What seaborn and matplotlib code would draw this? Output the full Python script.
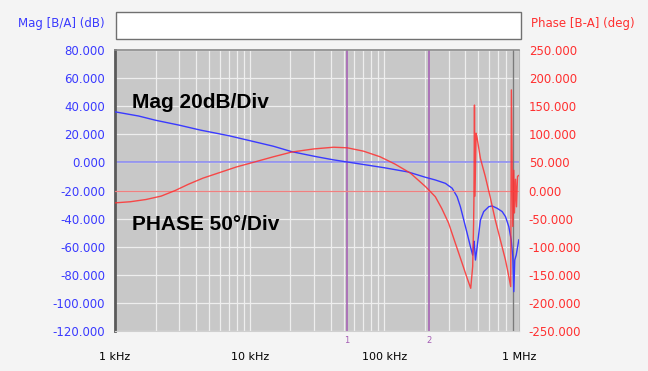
import numpy as np
import pandas as pd
import matplotlib
matplotlib.use("Agg")
import matplotlib.pyplot as plt
import matplotlib.ticker as mticker
from matplotlib.patches import Rectangle
import seaborn as sns

# ---------------- data ----------------
mag_freq = [1000, 1500, 2000, 3000, 4300, 7000, 10000, 15000, 20600, 31500, 42000,
            53000, 70000, 100000, 150000, 202000, 239000, 284000, 319000, 347000,
            367000, 389000, 412000, 436000, 453000, 462000, 466000, 475000, 489000,
            517000, 547000, 597000, 632000, 689000, 750000, 794000, 840000, 875000,
            899000, 915000, 930000, 953000, 997000]
mag_db = [36.0, 33.0, 30.0, 26.5, 23.0, 19.0, 15.5, 11.5, 7.6, 4.0, 1.8,
          0.3, -1.5, -3.8, -6.8, -10.6, -12.5, -14.9, -18.4, -24.4,
          -31.5, -41.0, -50.5, -60.0, -66.0, -56.0, -58.0, -69.5, -60.0,
          -41.0, -35.0, -31.5, -31.0, -32.7, -35.0, -38.6, -45.7, -55.0,
          -67.0, -92.0, -69.5, -66.0, -55.0]

ph_freq = [1000, 1300, 1700, 2200, 2800, 3500, 4500, 6000, 8000, 10600, 15000,
           20600, 30000, 42000, 53000, 70000, 93000, 120000, 156000, 202000,
           239000, 267000, 300000, 337000, 379000, 412000, 438000, 453000,
           460000, 463000, 467000, 471000, 480000, 489000, 517000, 562000,
           610000, 666000, 727000, 794000, 840000, 868000, 878000, 899000,
           915000, 925000, 942000, 958000, 975000, 997000]
ph_deg = [-22, -20, -16, -10, 0, 11, 22, 32, 42, 50, 60,
          68.5, 74, 77, 76, 70, 60, 47, 31, 7,
          -11, -32, -58, -94, -130, -156, -174, -135,
          -60, -10, 152, -10, 102, 93, 57, 25,
          -11, -52, -88, -124, -153, -171, 179, -64,
          36, -40, 20, -29, 25, 27]

mag_ticks = list(range(-120, 81, 20))
ph_ticks = list(range(-250, 251, 50))
x_ticks = [1e3, 1e4, 1e5, 1e6]
x_labels = ["1 kHz", "10 kHz", "100 kHz", "1 MHz"]
marker_freqs = [53000, 216000]
marker_labels = ["1", "2"]

mag_df = pd.DataFrame({"freq": mag_freq, "mag": mag_db})
ph_df = pd.DataFrame({"freq": ph_freq, "phase": ph_deg})

# ---------------- style ----------------
sns.set_style("white")
plt.rcParams["font.family"] = ["DejaVu Sans"]

W, H = 648, 371
BLUE = "#3a3aff"
RED = "#ff3030"
PURPLE = "#a45cb4"

fig = plt.figure(figsize=(W / 100, H / 100), dpi=100, facecolor="#f4f4f4")
L, R, T, B = 115, 519, 50, 331
ax = fig.add_axes([L / W, 1 - B / H, (R - L) / W, (B - T) / H])
ax.set_facecolor("#c8c8c8")

sns.lineplot(data=mag_df, x="freq", y="mag", ax=ax, color=BLUE, lw=1.0,
             sort=False, estimator=None, zorder=3)
ax.set_xlabel("")
ax.set_ylabel("")
ax.set_xscale("log")
ax.set_xlim(1e3, 1e6)
ax.set_ylim(-120, 80)

# reference lines
ax.axhline(0, color="#8c8cf0", lw=1.2, zorder=1.5)
ax.axvline(9e5, color="#7a7a7a", lw=1.0, zorder=1.5)
for f, lab in zip(marker_freqs, marker_labels):
    ax.axvline(f, color=PURPLE, lw=1.1, zorder=1.6)
    ax.text(f, -0.035, lab, transform=ax.get_xaxis_transform(), color=PURPLE,
            fontsize=6, ha="center", va="center")

ax2 = ax.twinx()
ax2.axhline(0, color="#f08080", lw=0.9, zorder=1.5)
sns.lineplot(data=ph_df, x="freq", y="phase", ax=ax2, color=RED, lw=1.0,
             sort=False, estimator=None, alpha=0.85, zorder=3)
ax2.set_ylim(-250, 250)
ax2.set_yticks(ph_ticks)
ax2.yaxis.set_major_formatter(mticker.FuncFormatter(lambda v, p: f"{v:.3f}"))
ax2.tick_params(axis="y", length=0, colors=RED, labelsize=8.5, pad=7)
ax2.set_ylabel("")
ax2.set_xlabel("")
ax2.grid(False)
for s in ax2.spines.values():
    s.set_visible(False)

# axes ticks / grid (set after twin so they stick)
ax.set_xlim(1e3, 1e6)
ax.set_yticks(mag_ticks)
ax.yaxis.set_major_formatter(mticker.FuncFormatter(lambda v, p: f"{v:.3f}"))
ax.xaxis.set_major_locator(mticker.FixedLocator(x_ticks))
ax.xaxis.set_major_formatter(mticker.FixedFormatter(x_labels))
ax.xaxis.set_minor_locator(mticker.LogLocator(base=10, subs=np.arange(2, 10)))
ax.xaxis.set_minor_formatter(mticker.NullFormatter())
ax.grid(False)
ax.xaxis.grid(True, which="both", color="#eeeeee", lw=0.9)
ax.yaxis.grid(True, which="major", color="#eeeeee", lw=0.9)
ax.set_axisbelow(True)
ax.tick_params(axis="both", which="both", length=0)
ax.tick_params(axis="y", colors=BLUE, labelsize=8.5, pad=7)
ax.tick_params(axis="x", colors="black", labelsize=8, pad=15)

# spines
ax.spines["left"].set_color("#5a5a5a")
ax.spines["left"].set_linewidth(2.0)
ax.spines["top"].set_color("#8a8a8a")
ax.spines["top"].set_linewidth(1.2)
ax.spines["right"].set_color("#b8b8b8")
ax.spines["bottom"].set_color("#d0d0d0")

# header box and axis titles
fig.patches.append(Rectangle((116 / W, 1 - 39 / H), (521 - 116) / W, 27 / H,
                             transform=fig.transFigure, facecolor="white",
                             edgecolor="#707070", lw=1.0))
fig.text(105 / W, 1 - 23 / H, "Mag [B/A] (dB)", color=BLUE, fontsize=8.5,
         ha="right", va="center")
fig.text(531 / W, 1 - 23 / H, "Phase [B-A] (deg)", color=RED, fontsize=8.5,
         ha="left", va="center")

# annotations
fig.text(132 / W, 1 - 102 / H, "Mag 20dB/Div", fontsize=15, weight="bold",
         ha="left", va="center", color="black", family="Liberation Sans")
fig.text(132 / W, 1 - 224 / H, "PHASE 50°/Div", fontsize=15, weight="bold",
         ha="left", va="center", color="black", family="Liberation Sans")

fig.savefig("out.png", dpi=100, facecolor=fig.get_facecolor())
